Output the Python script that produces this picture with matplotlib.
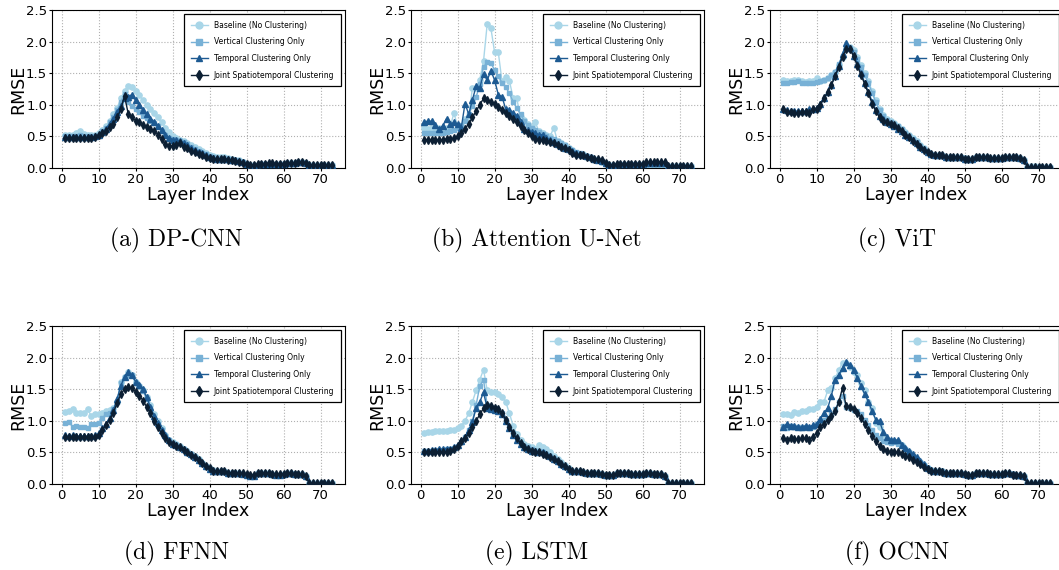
import matplotlib
matplotlib.use("Agg")
import matplotlib.pyplot as plt

layers = list(range(1, 74))

series_labels = ["Baseline (No Clustering)", "Vertical Clustering Only",
                 "Temporal Clustering Only", "Joint Spatiotemporal Clustering"]
captions = ["(a) DP-CNN", "(b) Attention U-Net", "(c) ViT",
            "(d) FFNN", "(e) LSTM", "(f) OCNN"]
x_ticks = [0, 10, 20, 30, 40, 50, 60, 70]
y_ticks = [0.0, 0.5, 1.0, 1.5, 2.0, 2.5]

# ---------------- (a) DP-CNN ----------------
base_a = [0.52, 0.53, 0.53, 0.55, 0.58, 0.54, 0.52, 0.52, 0.53, 0.55,
          0.60, 0.66, 0.75, 0.85, 0.95, 1.10, 1.22, 1.30, 1.28, 1.22,
          1.15, 1.07, 1.00, 0.93, 0.87, 0.80, 0.72, 0.64, 0.57, 0.50,
          0.47, 0.45, 0.43, 0.40, 0.37, 0.33, 0.30, 0.27, 0.24, 0.21,
          0.19, 0.17, 0.17, 0.17, 0.16, 0.14, 0.13, 0.12, 0.10, 0.07,
          0.05, 0.05, 0.05, 0.06, 0.07, 0.07, 0.07, 0.07, 0.07, 0.07,
          0.08, 0.08, 0.08, 0.09, 0.09, 0.08, 0.04, 0.04, 0.04, 0.04,
          0.04, 0.04, 0.04]
vert_a = [0.50, 0.50, 0.51, 0.51, 0.52, 0.51, 0.50, 0.50, 0.51, 0.53,
          0.58, 0.63, 0.72, 0.80, 0.92, 1.05, 1.17, 1.05, 0.98, 0.93,
          0.88, 0.83, 0.79, 0.75, 0.71, 0.66, 0.59, 0.53, 0.48, 0.46,
          0.44, 0.43, 0.41, 0.38, 0.34, 0.30, 0.27, 0.24, 0.22, 0.19,
          0.17, 0.16, 0.16, 0.16, 0.15, 0.13, 0.12, 0.11, 0.09, 0.07,
          0.05, 0.05, 0.05, 0.06, 0.07, 0.07, 0.07, 0.07, 0.07, 0.07,
          0.08, 0.08, 0.08, 0.09, 0.09, 0.08, 0.04, 0.04, 0.04, 0.04,
          0.04, 0.04, 0.04]
temp_a = [0.49, 0.49, 0.49, 0.49, 0.49, 0.49, 0.49, 0.49, 0.50, 0.52,
          0.57, 0.62, 0.70, 0.78, 0.88, 0.98, 1.10, 1.13, 1.16, 1.07,
          0.99, 0.91, 0.85, 0.78, 0.73, 0.67, 0.60, 0.53, 0.48, 0.45,
          0.44, 0.43, 0.40, 0.36, 0.32, 0.28, 0.26, 0.23, 0.21, 0.18,
          0.16, 0.15, 0.15, 0.15, 0.14, 0.13, 0.12, 0.11, 0.09, 0.06,
          0.05, 0.05, 0.06, 0.07, 0.07, 0.07, 0.07, 0.07, 0.07, 0.07,
          0.08, 0.08, 0.08, 0.09, 0.10, 0.08, 0.04, 0.04, 0.04, 0.04,
          0.04, 0.04, 0.04]
joint_a = [0.48, 0.48, 0.48, 0.48, 0.48, 0.48, 0.48, 0.48, 0.49, 0.52,
           0.55, 0.59, 0.65, 0.70, 0.80, 0.93, 1.14, 0.86, 0.80, 0.75,
           0.72, 0.68, 0.65, 0.61, 0.59, 0.53, 0.46, 0.38, 0.35, 0.35,
           0.37, 0.39, 0.34, 0.31, 0.27, 0.25, 0.22, 0.20, 0.18, 0.16,
           0.14, 0.14, 0.14, 0.14, 0.13, 0.12, 0.11, 0.10, 0.08, 0.06,
           0.05, 0.05, 0.06, 0.07, 0.07, 0.08, 0.08, 0.07, 0.07, 0.07,
           0.08, 0.08, 0.08, 0.09, 0.10, 0.08, 0.04, 0.04, 0.04, 0.04,
           0.04, 0.04, 0.04]

# ---------------- (b) Attention U-Net ----------------
base_b = [0.64, 0.61, 0.64, 0.64, 0.63, 0.62, 0.63, 0.65, 0.87, 0.66,
          0.67, 0.77, 0.82, 1.26, 1.27, 1.40, 1.69, 2.28, 2.21, 1.83,
          1.83, 1.37, 1.44, 1.38, 1.11, 1.10, 0.80, 0.76, 0.70, 0.65,
          0.72, 0.58, 0.55, 0.52, 0.50, 0.64, 0.42, 0.40, 0.36, 0.32,
          0.28, 0.24, 0.22, 0.22, 0.18, 0.16, 0.14, 0.12, 0.10, 0.07,
          0.04, 0.04, 0.04, 0.04, 0.04, 0.04, 0.04, 0.04, 0.04, 0.04,
          0.05, 0.05, 0.05, 0.05, 0.05, 0.05, 0.03, 0.03, 0.03, 0.03,
          0.03, 0.03, 0.03]
vert_b = [0.55, 0.55, 0.55, 0.55, 0.55, 0.56, 0.57, 0.58, 0.60, 0.63,
          0.68, 0.75, 0.85, 0.98, 1.12, 1.33, 1.60, 1.67, 1.66, 1.55,
          1.45, 1.35, 1.28, 1.18, 1.05, 0.95, 0.85, 0.75, 0.68, 0.63,
          0.60, 0.57, 0.54, 0.50, 0.48, 0.46, 0.43, 0.40, 0.36, 0.32,
          0.28, 0.25, 0.23, 0.21, 0.19, 0.17, 0.15, 0.13, 0.11, 0.08,
          0.05, 0.05, 0.05, 0.06, 0.06, 0.06, 0.06, 0.06, 0.06, 0.06,
          0.07, 0.07, 0.07, 0.07, 0.07, 0.07, 0.03, 0.03, 0.03, 0.03,
          0.03, 0.03, 0.03]
temp_b = [0.73, 0.74, 0.74, 0.68, 0.62, 0.67, 0.78, 0.69, 0.72, 0.69,
          0.64, 1.02, 0.85, 1.08, 1.29, 1.27, 1.49, 1.39, 1.54, 1.39,
          1.16, 1.13, 0.93, 0.92, 0.87, 0.83, 0.72, 0.62, 0.60, 0.57,
          0.56, 0.52, 0.53, 0.47, 0.44, 0.41, 0.38, 0.35, 0.32, 0.30,
          0.27, 0.24, 0.22, 0.21, 0.19, 0.17, 0.15, 0.13, 0.11, 0.08,
          0.05, 0.05, 0.06, 0.07, 0.07, 0.07, 0.07, 0.07, 0.07, 0.07,
          0.08, 0.08, 0.08, 0.08, 0.08, 0.08, 0.03, 0.03, 0.03, 0.03,
          0.03, 0.03, 0.03]
joint_b = [0.45, 0.45, 0.45, 0.45, 0.45, 0.45, 0.46, 0.46, 0.47, 0.50,
           0.55, 0.62, 0.70, 0.80, 0.90, 1.00, 1.10, 1.07, 1.05, 1.02,
           0.97, 0.92, 0.87, 0.82, 0.77, 0.72, 0.66, 0.60, 0.55, 0.50,
           0.46, 0.45, 0.45, 0.43, 0.41, 0.39, 0.36, 0.34, 0.31, 0.28,
           0.24, 0.21, 0.20, 0.20, 0.18, 0.16, 0.15, 0.14, 0.12, 0.08,
           0.05, 0.05, 0.06, 0.07, 0.07, 0.07, 0.07, 0.07, 0.07, 0.07,
           0.09, 0.09, 0.10, 0.10, 0.10, 0.09, 0.03, 0.03, 0.03, 0.03,
           0.03, 0.03, 0.03]

# ---------------- (c) ViT ----------------
base_c = [1.40, 1.38, 1.38, 1.39, 1.40, 1.37, 1.36, 1.37, 1.38, 1.42,
          1.38, 1.40, 1.42, 1.47, 1.52, 1.63, 1.76, 1.88, 1.92, 1.86,
          1.76, 1.63, 1.50, 1.37, 1.22, 1.07, 0.93, 0.84, 0.78, 0.74,
          0.71, 0.67, 0.62, 0.57, 0.52, 0.47, 0.42, 0.36, 0.31, 0.26,
          0.22, 0.21, 0.21, 0.20, 0.18, 0.17, 0.17, 0.17, 0.17, 0.16,
          0.14, 0.14, 0.17, 0.18, 0.18, 0.18, 0.16, 0.16, 0.16, 0.16,
          0.18, 0.18, 0.17, 0.17, 0.16, 0.12, 0.02, 0.03, 0.03, 0.02,
          0.02, 0.02, 0.02]
vert_c = [1.35, 1.35, 1.36, 1.36, 1.37, 1.35, 1.34, 1.35, 1.35, 1.36,
          1.37, 1.40, 1.42, 1.47, 1.52, 1.65, 1.78, 1.90, 1.90, 1.83,
          1.72, 1.60, 1.47, 1.34, 1.19, 1.04, 0.91, 0.82, 0.76, 0.72,
          0.69, 0.66, 0.61, 0.56, 0.51, 0.46, 0.41, 0.35, 0.30, 0.26,
          0.22, 0.21, 0.21, 0.20, 0.18, 0.17, 0.17, 0.17, 0.17, 0.16,
          0.14, 0.14, 0.17, 0.18, 0.18, 0.18, 0.16, 0.16, 0.16, 0.16,
          0.18, 0.18, 0.17, 0.17, 0.16, 0.12, 0.02, 0.02, 0.02, 0.02,
          0.02, 0.02, 0.02]
temp_c = [0.93, 0.92, 0.90, 0.90, 0.90, 0.90, 0.90, 0.93, 0.93, 0.95,
          1.02, 1.10, 1.20, 1.32, 1.45, 1.62, 1.80, 1.98, 1.90, 1.78,
          1.65, 1.50, 1.35, 1.20, 1.05, 0.92, 0.82, 0.77, 0.73, 0.70,
          0.67, 0.62, 0.58, 0.53, 0.49, 0.44, 0.39, 0.34, 0.30, 0.25,
          0.22, 0.21, 0.21, 0.20, 0.18, 0.17, 0.17, 0.17, 0.17, 0.15,
          0.14, 0.14, 0.17, 0.18, 0.18, 0.18, 0.16, 0.16, 0.16, 0.16,
          0.18, 0.18, 0.17, 0.17, 0.16, 0.12, 0.02, 0.02, 0.02, 0.02,
          0.02, 0.02, 0.02]
joint_c = [0.93, 0.88, 0.88, 0.87, 0.87, 0.88, 0.88, 0.87, 0.93, 0.93,
           1.00, 1.10, 1.20, 1.32, 1.45, 1.60, 1.76, 1.88, 1.88, 1.77,
           1.62, 1.47, 1.33, 1.18, 1.02, 0.90, 0.80, 0.75, 0.72, 0.70,
           0.68, 0.63, 0.58, 0.53, 0.49, 0.43, 0.38, 0.33, 0.29, 0.25,
           0.22, 0.21, 0.21, 0.20, 0.18, 0.17, 0.17, 0.17, 0.17, 0.15,
           0.14, 0.14, 0.17, 0.18, 0.18, 0.18, 0.16, 0.16, 0.16, 0.16,
           0.18, 0.18, 0.17, 0.17, 0.16, 0.12, 0.02, 0.02, 0.02, 0.02,
           0.02, 0.02, 0.02]

# ---------------- (d) FFNN ----------------
base_d = [1.14, 1.15, 1.19, 1.13, 1.13, 1.12, 1.18, 1.08, 1.10, 1.11,
          1.12, 1.15, 1.17, 1.20, 1.30, 1.62, 1.70, 1.77, 1.72, 1.62,
          1.55, 1.48, 1.38, 1.25, 1.10, 1.00, 0.88, 0.78, 0.70, 0.66,
          0.63, 0.60, 0.56, 0.52, 0.48, 0.44, 0.39, 0.34, 0.29, 0.25,
          0.22, 0.20, 0.20, 0.20, 0.18, 0.17, 0.17, 0.17, 0.16, 0.15,
          0.13, 0.13, 0.17, 0.17, 0.17, 0.17, 0.16, 0.15, 0.15, 0.16,
          0.18, 0.17, 0.16, 0.16, 0.16, 0.12, 0.01, 0.01, 0.01, 0.01,
          0.01, 0.01, 0.01]
vert_d = [0.97, 0.98, 0.90, 0.91, 0.90, 0.90, 0.88, 0.95, 0.95, 0.97,
          1.05, 1.10, 1.13, 1.18, 1.30, 1.60, 1.70, 1.73, 1.72, 1.60,
          1.55, 1.47, 1.35, 1.20, 1.05, 0.95, 0.85, 0.76, 0.69, 0.65,
          0.62, 0.59, 0.55, 0.51, 0.47, 0.43, 0.38, 0.33, 0.28, 0.24,
          0.21, 0.20, 0.20, 0.20, 0.18, 0.17, 0.17, 0.17, 0.16, 0.14,
          0.12, 0.12, 0.17, 0.17, 0.17, 0.17, 0.16, 0.15, 0.15, 0.16,
          0.18, 0.17, 0.16, 0.16, 0.16, 0.12, 0.01, 0.01, 0.01, 0.01,
          0.01, 0.01, 0.01]
temp_d = [0.77, 0.76, 0.77, 0.76, 0.76, 0.76, 0.76, 0.76, 0.77, 0.80,
          0.88, 0.95, 1.05, 1.17, 1.35, 1.55, 1.70, 1.77, 1.72, 1.62,
          1.57, 1.50, 1.37, 1.22, 1.08, 0.96, 0.86, 0.77, 0.69, 0.64,
          0.61, 0.58, 0.55, 0.50, 0.47, 0.42, 0.38, 0.33, 0.28, 0.24,
          0.21, 0.20, 0.20, 0.20, 0.18, 0.17, 0.17, 0.17, 0.16, 0.15,
          0.13, 0.13, 0.17, 0.18, 0.18, 0.17, 0.16, 0.15, 0.15, 0.16,
          0.18, 0.17, 0.16, 0.16, 0.16, 0.12, 0.01, 0.01, 0.01, 0.01,
          0.01, 0.01, 0.01]
joint_d = [0.74, 0.74, 0.74, 0.74, 0.74, 0.74, 0.74, 0.74, 0.75, 0.78,
           0.86, 0.93, 1.02, 1.13, 1.28, 1.42, 1.50, 1.53, 1.52, 1.46,
           1.40, 1.32, 1.22, 1.12, 1.00, 0.90, 0.80, 0.72, 0.66, 0.63,
           0.60, 0.58, 0.54, 0.50, 0.46, 0.42, 0.38, 0.33, 0.29, 0.25,
           0.21, 0.20, 0.20, 0.20, 0.18, 0.17, 0.17, 0.17, 0.17, 0.16,
           0.14, 0.14, 0.17, 0.18, 0.18, 0.18, 0.16, 0.16, 0.16, 0.16,
           0.18, 0.17, 0.16, 0.16, 0.16, 0.12, 0.01, 0.01, 0.01, 0.01,
           0.01, 0.01, 0.01]

# ---------------- (e) LSTM ----------------
base_e = [0.80, 0.82, 0.83, 0.84, 0.84, 0.84, 0.84, 0.85, 0.86, 0.88,
          0.92, 1.00, 1.12, 1.30, 1.48, 1.65, 1.81, 1.48, 1.46, 1.46,
          1.43, 1.38, 1.30, 1.12, 0.92, 0.79, 0.70, 0.64, 0.60, 0.58,
          0.56, 0.62, 0.58, 0.55, 0.50, 0.45, 0.40, 0.35, 0.30, 0.25,
          0.21, 0.20, 0.20, 0.19, 0.18, 0.17, 0.17, 0.17, 0.16, 0.15,
          0.14, 0.14, 0.17, 0.18, 0.18, 0.18, 0.16, 0.16, 0.16, 0.16,
          0.18, 0.18, 0.16, 0.16, 0.16, 0.12, 0.01, 0.01, 0.01, 0.01,
          0.01, 0.01, 0.01]
vert_e = [0.52, 0.52, 0.53, 0.53, 0.54, 0.54, 0.55, 0.55, 0.57, 0.60,
          0.67, 0.75, 0.85, 1.00, 1.25, 1.55, 1.65, 1.25, 1.22, 1.20,
          1.17, 1.12, 1.02, 0.90, 0.80, 0.72, 0.65, 0.60, 0.58, 0.55,
          0.53, 0.53, 0.51, 0.48, 0.45, 0.41, 0.37, 0.32, 0.28, 0.24,
          0.21, 0.20, 0.20, 0.19, 0.18, 0.17, 0.17, 0.17, 0.16, 0.15,
          0.14, 0.14, 0.17, 0.18, 0.18, 0.18, 0.16, 0.16, 0.16, 0.16,
          0.18, 0.18, 0.16, 0.16, 0.16, 0.12, 0.01, 0.01, 0.01, 0.01,
          0.01, 0.01, 0.01]
temp_e = [0.53, 0.53, 0.54, 0.54, 0.55, 0.55, 0.56, 0.56, 0.58, 0.61,
          0.68, 0.75, 0.85, 0.98, 1.20, 1.30, 1.45, 1.20, 1.18, 1.17,
          1.15, 1.10, 1.00, 0.88, 0.78, 0.70, 0.63, 0.58, 0.55, 0.53,
          0.52, 0.51, 0.50, 0.47, 0.44, 0.40, 0.36, 0.32, 0.28, 0.24,
          0.21, 0.20, 0.20, 0.19, 0.18, 0.17, 0.17, 0.17, 0.16, 0.15,
          0.14, 0.14, 0.17, 0.18, 0.18, 0.18, 0.16, 0.16, 0.16, 0.16,
          0.18, 0.18, 0.16, 0.16, 0.16, 0.12, 0.01, 0.01, 0.01, 0.01,
          0.01, 0.01, 0.01]
joint_e = [0.50, 0.50, 0.50, 0.50, 0.51, 0.51, 0.51, 0.52, 0.55, 0.60,
           0.68, 0.72, 0.80, 0.90, 1.00, 1.10, 1.20, 1.25, 1.23, 1.20,
           1.18, 1.12, 1.02, 0.90, 0.80, 0.72, 0.65, 0.58, 0.55, 0.52,
           0.50, 0.50, 0.48, 0.46, 0.43, 0.40, 0.36, 0.32, 0.28, 0.23,
           0.20, 0.20, 0.20, 0.19, 0.18, 0.17, 0.17, 0.17, 0.16, 0.15,
           0.14, 0.14, 0.17, 0.18, 0.18, 0.18, 0.16, 0.16, 0.16, 0.16,
           0.18, 0.18, 0.16, 0.16, 0.16, 0.12, 0.01, 0.01, 0.01, 0.01,
           0.01, 0.01, 0.01]

# ---------------- (f) OCNN ----------------
base_f = [1.10, 1.11, 1.09, 1.14, 1.13, 1.16, 1.15, 1.18, 1.18, 1.22,
          1.30, 1.30, 1.48, 1.52, 1.67, 1.80, 1.92, 1.92, 1.85, 1.78,
          1.72, 1.60, 1.48, 1.30, 1.20, 0.97, 0.90, 0.78, 0.70, 0.67,
          0.68, 0.66, 0.62, 0.55, 0.50, 0.45, 0.40, 0.35, 0.30, 0.25,
          0.22, 0.21, 0.21, 0.20, 0.18, 0.17, 0.17, 0.17, 0.17, 0.16,
          0.14, 0.14, 0.17, 0.18, 0.18, 0.18, 0.16, 0.16, 0.16, 0.16,
          0.17, 0.17, 0.16, 0.15, 0.15, 0.12, 0.01, 0.01, 0.01, 0.01,
          0.01, 0.01, 0.01]
vert_f = [0.92, 0.88, 0.92, 0.90, 0.90, 0.88, 0.90, 0.88, 0.90, 0.95,
          1.00, 1.02, 1.05, 1.10, 1.18, 1.30, 1.40, 1.22, 1.20, 1.17,
          1.15, 1.10, 1.02, 0.93, 0.85, 0.78, 0.72, 0.68, 0.66, 0.65,
          0.66, 0.64, 0.60, 0.55, 0.50, 0.45, 0.40, 0.35, 0.30, 0.25,
          0.22, 0.21, 0.21, 0.20, 0.18, 0.17, 0.17, 0.17, 0.17, 0.16,
          0.14, 0.14, 0.17, 0.18, 0.18, 0.18, 0.16, 0.16, 0.16, 0.16,
          0.17, 0.17, 0.16, 0.15, 0.15, 0.12, 0.01, 0.01, 0.01, 0.01,
          0.01, 0.01, 0.01]
temp_f = [0.90, 0.95, 0.92, 0.92, 0.90, 0.90, 0.92, 0.90, 0.93, 0.95,
          1.03, 1.12, 1.20, 1.40, 1.65, 1.73, 1.83, 1.93, 1.88, 1.80,
          1.68, 1.55, 1.42, 1.30, 1.15, 1.02, 1.00, 0.82, 0.75, 0.70,
          0.70, 0.69, 0.62, 0.57, 0.53, 0.47, 0.42, 0.37, 0.32, 0.26,
          0.22, 0.21, 0.21, 0.20, 0.18, 0.17, 0.17, 0.17, 0.17, 0.16,
          0.14, 0.14, 0.17, 0.18, 0.18, 0.18, 0.16, 0.16, 0.16, 0.16,
          0.17, 0.17, 0.16, 0.15, 0.15, 0.12, 0.01, 0.01, 0.01, 0.01,
          0.01, 0.01, 0.01]
joint_f = [0.73, 0.70, 0.72, 0.71, 0.71, 0.72, 0.72, 0.70, 0.75, 0.80,
           0.90, 0.95, 1.02, 1.08, 1.15, 1.30, 1.52, 1.23, 1.22, 1.18,
           1.13, 1.05, 0.95, 0.85, 0.76, 0.68, 0.60, 0.55, 0.52, 0.51,
           0.50, 0.50, 0.48, 0.45, 0.42, 0.38, 0.35, 0.31, 0.27, 0.23,
           0.20, 0.20, 0.20, 0.19, 0.17, 0.17, 0.17, 0.17, 0.17, 0.16,
           0.15, 0.14, 0.17, 0.18, 0.18, 0.18, 0.16, 0.16, 0.16, 0.16,
           0.17, 0.17, 0.15, 0.15, 0.15, 0.12, 0.01, 0.01, 0.01, 0.01,
           0.01, 0.01, 0.01]

panels = [
    (base_a, vert_a, temp_a, joint_a),
    (base_b, vert_b, temp_b, joint_b),
    (base_c, vert_c, temp_c, joint_c),
    (base_d, vert_d, temp_d, joint_d),
    (base_e, vert_e, temp_e, joint_e),
    (base_f, vert_f, temp_f, joint_f),
]

colors = ["#a9d6e8", "#78b1d6", "#1d5a92", "#0c1f33"]
markers = ["o", "s", "^", "d"]
msizes = [3.8, 3.4, 3.8, 3.8]

W, H = 1059, 570
fig = plt.figure(figsize=(W / 100, H / 100), dpi=100)

lefts = [52, 411, 770]
tops = [10, 326]
ax_w, ax_h = 293, 158
cap_x = [176, 537, 897]
cap_y = [240, 553]

for i, data in enumerate(panels):
    r, c = divmod(i, 3)
    l = lefts[c] / W
    b = 1 - (tops[r] + ax_h) / H
    ax = fig.add_axes([l, b, ax_w / W, ax_h / H])
    for k, ys in enumerate(data):
        ax.plot(layers, ys, color=colors[k], marker=markers[k], markersize=msizes[k],
                linewidth=1.0, label=series_labels[k], zorder=2 + k)
    ax.set_ylim(0, 2.5)
    ax.set_xlim(-2.6, 76.6)
    ax.set_xticks(x_ticks)
    ax.set_yticks(y_ticks)
    ax.tick_params(labelsize=9.5, length=2.0, pad=1.5)
    ax.grid(True, linestyle=":", color="#b0b0b0", linewidth=0.8)
    ax.set_axisbelow(True)
    ax.set_xlabel("Layer Index", fontsize=12.5, labelpad=0)
    ax.set_ylabel("RMSE", fontsize=12.5, labelpad=-1)
    leg = ax.legend(loc="upper right", fontsize=5.5, frameon=True, fancybox=False,
                    edgecolor="black", framealpha=1.0, labelspacing=1.0,
                    handlelength=2.2, handletextpad=0.8, borderpad=0.9,
                    markerscale=1.3)
    leg.get_frame().set_linewidth(0.9)
    fig.text(cap_x[c] / W, 1 - cap_y[r] / H, captions[i], fontsize=17,
             family="cmr10", ha="center", va="center")

fig.savefig("out.png", dpi=100)
